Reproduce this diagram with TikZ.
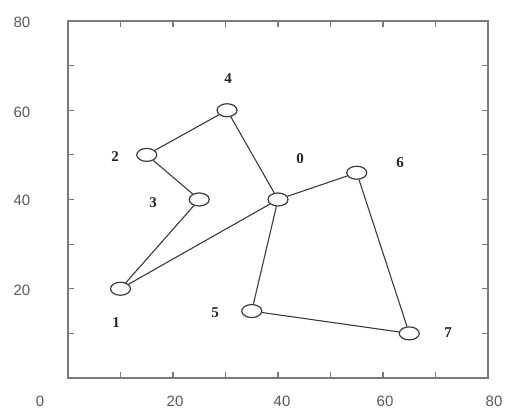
\documentclass[tikz,border=0pt]{standalone}
\usepackage{fontspec}
\setmainfont{Liberation Serif}
\newfontfamily\tickfont{Liberation Sans}
\usetikzlibrary{shapes.geometric}
\definecolor{framegray}{HTML}{7A7A7A}
\definecolor{edgegray}{HTML}{3C3C3C}
\definecolor{ticktext}{HTML}{5A5A5A}
\begin{document}
\begin{tikzpicture}[x=1pt,y=-1pt,
  vert/.style={ellipse,draw=edgegray,line width=1.2pt,fill=white,minimum width=20pt,minimum height=13pt,inner sep=0pt},
  lab/.style={font=\fontsize{15}{15}\selectfont\bfseries,text=black!85},
  ticklab/.style={font=\tickfont\fontsize{15}{15}\selectfont,text=ticktext},
  edge/.style={draw=edgegray,line width=1.1pt}]
\useasboundingbox (0,0) rectangle (505,414);
\fill[white] (0,0) rectangle (505,414);
% tick labels
\node[ticklab] (ty80) at (22,22) {80};
\node[ticklab] (ty60) at (22,112) {60};
\node[ticklab] (ty40) at (22,200) {40};
\node[ticklab] (ty20) at (22,290) {20};
\node[ticklab] (tx0) at (40,401) {0};
\node[ticklab] (tx20) at (175,401) {20};
\node[ticklab] (tx40) at (282,401) {40};
\node[ticklab] (tx60) at (385,401) {60};
\node[ticklab] (tx80) at (494,401) {80};
\begin{scope}[shift={(68,378)},x=5.25pt,y=4.4625pt]
  \draw[framegray,line width=1.8pt] (0,0) rectangle (80,80);
  \foreach \t in {10,20,...,70}{
    \draw[framegray,line width=1.1pt] (\t,0) -- ++(0,1.3);
    \draw[framegray,line width=1.1pt] (\t,80) -- ++(0,-1.3);
    \draw[framegray,line width=1.1pt] (0,\t) -- ++(1.2,0);
    \draw[framegray,line width=1.1pt] (80,\t) -- ++(-1.2,0);
  }
  \node[vert] (n0) at (40,40) {};
  \node[vert] (n1) at (10,20) {};
  \node[vert] (n2) at (15,50) {};
  \node[vert] (n3) at (25,40) {};
  \node[vert] (n4) at (30.3,60) {};
  \node[vert] (n5) at (35,15) {};
  \node[vert] (n6) at (55,46) {};
  \node[vert] (n7) at (65,10) {};
\end{scope}
% edges
\draw[edge] (n4) -- (n2);
\draw[edge] (n2) -- (n3);
\draw[edge] (n3) -- (n1);
\draw[edge] (n1) -- (n0);
\draw[edge] (n0) -- (n6);
\draw[edge] (n4) -- (n0);
\draw[edge] (n0) -- (n5);
\draw[edge] (n5) -- (n7);
\draw[edge] (n6) -- (n7);
% vertex labels
\node[lab] (l4) at (228,79) {4};
\node[lab] (l2) at (115,157) {2};
\node[lab] (l3) at (153,203) {3};
\node[lab] (l0) at (300,159) {0};
\node[lab] (l6) at (400,163) {6};
\node[lab] (l1) at (116,323) {1};
\node[lab] (l5) at (215,313) {5};
\node[lab] (l7) at (448,333) {7};
\end{tikzpicture}
\end{document}
